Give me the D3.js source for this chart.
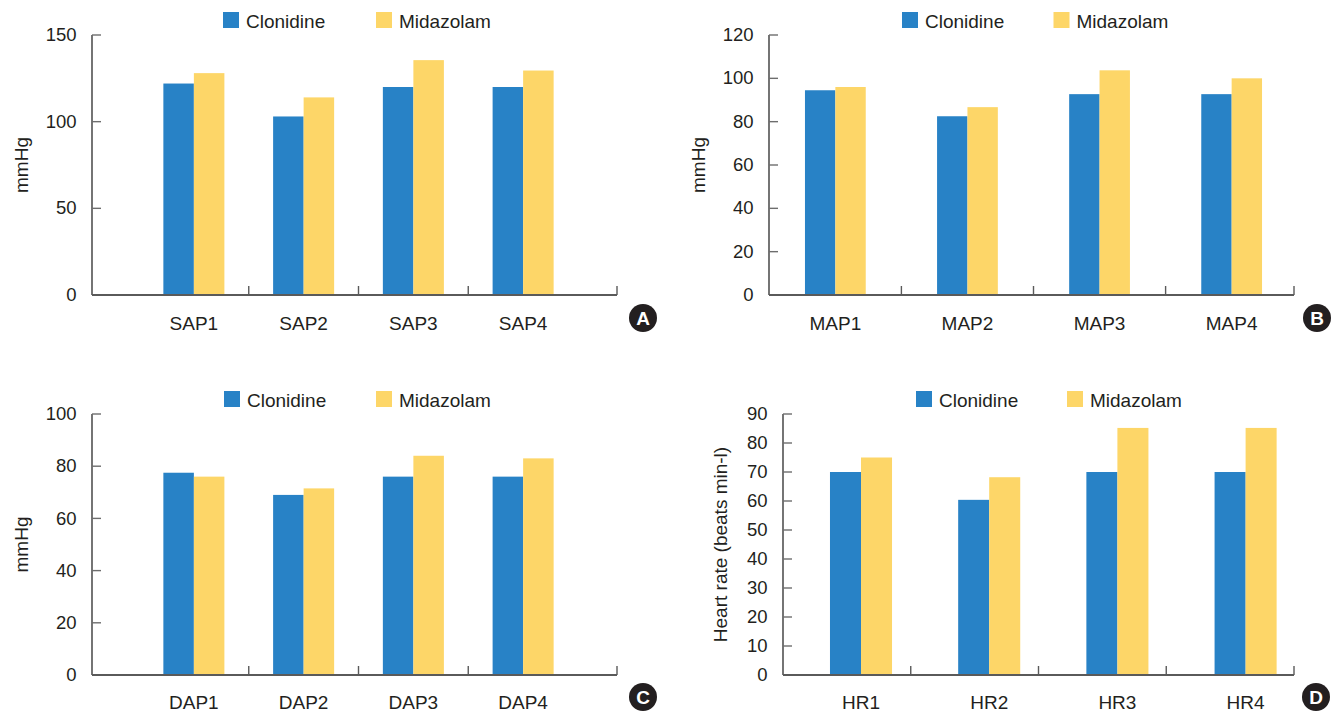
<!DOCTYPE html>
<html>
<head>
<meta charset="utf-8">
<script src="https://cdn.jsdelivr.net/npm/d3@7"></script>
<style>
  html, body { margin: 0; padding: 0; background: #fff; }
  svg { display: block; }
  text { font-family: "Liberation Sans", Arial, Helvetica, sans-serif; fill: #231f20; }
</style>
</head>
<body>
<svg id="chart" width="1336" height="712"></svg>
<script>
// ---------- data ----------
const seriesNames = ["Clonidine", "Midazolam"];
const seriesColors = ["#2882c6", "#fdd668"];

const sapCategories = ["SAP1", "SAP2", "SAP3", "SAP4"];
const sapClonidine = [122, 103, 120, 120];
const sapMidazolam = [128, 114, 135.5, 129.5];
const sapTicks = [0, 50, 100, 150];

const mapCategories = ["MAP1", "MAP2", "MAP3", "MAP4"];
const mapClonidine = [94.5, 82.5, 92.7, 92.7];
const mapMidazolam = [96, 86.7, 103.7, 100];
const mapTicks = [0, 20, 40, 60, 80, 100, 120];

const dapCategories = ["DAP1", "DAP2", "DAP3", "DAP4"];
const dapClonidine = [77.5, 69, 76, 76];
const dapMidazolam = [76, 71.5, 84, 83];
const dapTicks = [0, 20, 40, 60, 80, 100];

const hrCategories = ["HR1", "HR2", "HR3", "HR4"];
const hrClonidine = [70, 60.4, 70, 70];
const hrMidazolam = [75, 68.2, 85.2, 85.2];
const hrTicks = [0, 10, 20, 30, 40, 50, 60, 70, 80, 90];

// ---------- layout ----------
const panels = [
  { cats: sapCategories, a: sapClonidine, b: sapMidazolam, ticks: sapTicks, title: "mmHg", letter: "A",
    axisX: 92, axisEnd: 617, yTop: 35, yBottom: 295, band: [139, 578], pad: 0.444, tickMode: "bands",
    legendX: 223, legendY: 12, legendGap: 153, titleX: 21, catY: 330, circle: [643, 318] },
  { cats: mapCategories, a: mapClonidine, b: mapMidazolam, ticks: mapTicks, title: "mmHg", letter: "B",
    axisX: 769, axisEnd: 1294, yTop: 35, yBottom: 295, band: [769.3, 1297.7], pad: 0.54, tickMode: "bands",
    legendX: 902, legendY: 12, legendGap: 151.5, titleX: 698, catY: 330, circle: [1317, 318] },
  { cats: dapCategories, a: dapClonidine, b: dapMidazolam, ticks: dapTicks, title: "mmHg", letter: "C",
    axisX: 92, axisEnd: 617, yTop: 414, yBottom: 675, band: [139, 578], pad: 0.444, tickMode: "bands",
    legendX: 224, legendY: 391, legendGap: 152, titleX: 21, catY: 709, circle: [643, 697] },
  { cats: hrCategories, a: hrClonidine, b: hrMidazolam, ticks: hrTicks, title: "Heart rate (beats min-l)", letter: "D",
    axisX: 783, axisEnd: 1294, yTop: 414, yBottom: 675, band: [796.9, 1309.7], pad: 0.516, tickMode: "even",
    legendX: 916, legendY: 391, legendGap: 151, titleX: 720, catY: 709, circle: [1316, 697] }
];

const svg = d3.select("#chart");

panels.forEach(p => {
  const g = svg.append("g");
  const maxTick = d3.max(p.ticks);
  const y = d3.scaleLinear().domain([0, maxTick]).range([p.yBottom, p.yTop]);
  const x = d3.scaleBand().domain(p.cats).range(p.band).paddingInner(p.pad).paddingOuter(p.pad / 2);
  const xs = d3.scaleBand().domain(seriesNames).range([0, x.bandwidth()]);

  const rows = p.cats.map((c, i) => ({ cat: c, values: [p.a[i], p.b[i]] }));

  // bars
  const grp = g.selectAll("g.grp").data(rows).enter().append("g")
    .attr("transform", d => `translate(${x(d.cat)},0)`);
  grp.selectAll("rect").data(d => d.values.map((v, k) => ({ v, k }))).enter().append("rect")
    .attr("x", d => xs(seriesNames[d.k]))
    .attr("width", xs.bandwidth())
    .attr("y", d => y(d.v))
    .attr("height", d => y(0) - y(d.v))
    .attr("fill", d => seriesColors[d.k]);

  // y axis
  g.append("line").attr("x1", p.axisX).attr("x2", p.axisX)
    .attr("y1", y(maxTick)).attr("y2", y(0))
    .attr("stroke", "#3a3a3a").attr("stroke-width", 1.4);
  g.selectAll("line.yt").data(p.ticks).enter().append("line")
    .attr("x1", p.axisX).attr("x2", p.axisX + 9)
    .attr("y1", d => y(d)).attr("y2", d => y(d))
    .attr("stroke", "#6d6d6d").attr("stroke-width", 1.4);
  g.selectAll("text.yl").data(p.ticks).enter().append("text")
    .attr("x", p.axisX - 15.5).attr("y", d => y(d)).attr("dy", "0.33em")
    .attr("text-anchor", "end").attr("font-size", 18.5)
    .text(d => d);

  // x axis
  g.append("line").attr("x1", p.axisX).attr("x2", p.axisEnd)
    .attr("y1", y(0)).attr("y2", y(0))
    .attr("stroke", "#5a5a5a").attr("stroke-width", 2);
  let tickXs;
  if (p.tickMode === "bands") {
    tickXs = p.cats.slice(1).map(c => x(c) - x.step() * x.paddingInner() / 2);
    tickXs.push(p.axisEnd);
  } else {
    const tScale = d3.scaleLinear().domain([0, p.cats.length]).range([p.axisX, p.axisEnd]);
    tickXs = d3.range(1, p.cats.length + 1).map(tScale);
  }
  g.selectAll("line.xt").data(tickXs).enter().append("line")
    .attr("x1", d => d).attr("x2", d => d)
    .attr("y1", y(0)).attr("y2", y(0) - 9)
    .attr("stroke", "#5a5a5a").attr("stroke-width", 1.4);
  g.selectAll("text.xl").data(p.cats).enter().append("text")
    .attr("x", d => x(d) + x.bandwidth() / 2).attr("y", p.catY)
    .attr("text-anchor", "middle").attr("font-size", 19)
    .text(d => d);

  // y title
  const ty = (p.yTop + p.yBottom) / 2;
  g.append("text")
    .attr("transform", `translate(${p.titleX},${ty}) rotate(-90)`)
    .attr("text-anchor", "middle").attr("dy", "0.35em").attr("font-size", 19)
    .text(p.title);

  // legend
  const lg = g.append("g").attr("transform", `translate(${p.legendX},${p.legendY})`);
  const li = lg.selectAll("g").data(seriesNames).enter().append("g")
    .attr("transform", (d, i) => `translate(${i * p.legendGap},0)`);
  li.append("rect").attr("width", 16).attr("height", 16).attr("fill", (d, i) => seriesColors[i]);
  li.append("text").attr("x", 23).attr("y", 15.5).attr("font-size", 19).text(d => d);

  // panel letter
  g.append("circle").attr("cx", p.circle[0]).attr("cy", p.circle[1]).attr("r", 14).attr("fill", "#231f20");
  g.append("text").attr("x", p.circle[0]).attr("y", p.circle[1]).attr("dy", "0.36em")
    .attr("text-anchor", "middle").attr("font-size", 19).attr("font-weight", "bold")
    .style("fill", "#fff").text(p.letter);
});
</script>
</body>
</html>
